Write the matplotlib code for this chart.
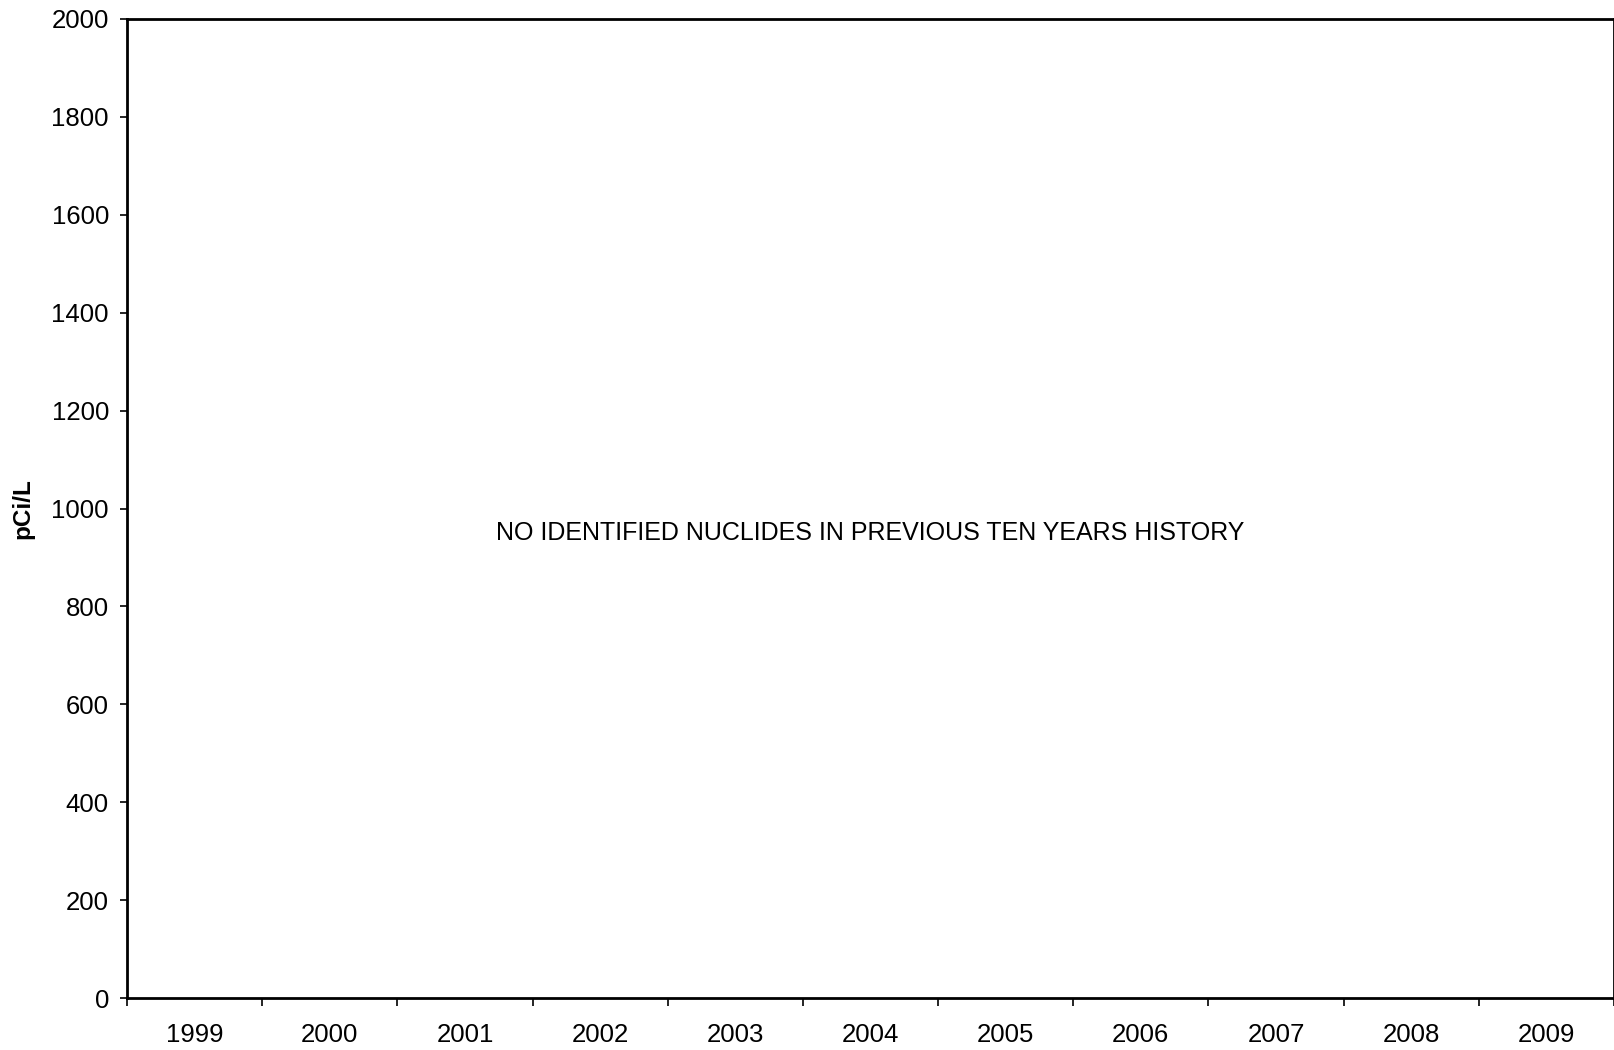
import matplotlib.pyplot as plt
import numpy as np

# Годы (категории) и подписи
years = ["1999", "2000", "2001", "2002", "2003", "2004",
         "2005", "2006", "2007", "2008", "2009"]
y_ticks = [0, 200, 400, 600, 800, 1000, 1200, 1400, 1600, 1800, 2000]
message = "NO IDENTIFIED NUCLIDES IN PREVIOUS TEN YEARS HISTORY"

plt.rcParams["font.family"] = ["Liberation Sans", "DejaVu Sans"]

fig = plt.figure(figsize=(16.15, 10.5), dpi=100)
ax = fig.add_axes([127 / 1615, 52 / 1050, 1487 / 1615, 979 / 1050])

x = np.arange(len(years))
ax.set_xlim(-0.5, len(years) - 0.5)
ax.set_ylim(0, 2000)

# Подписи по центру категорий, засечки на границах
ax.set_xticks(x)
ax.set_xticklabels(years, fontsize=18.5)
ax.tick_params(axis="x", which="major", length=0, pad=18)
ax.set_xticks(np.arange(len(years) + 1) - 0.5, minor=True)
ax.tick_params(axis="x", which="minor", length=6, width=1.2, direction="out")

ax.set_yticks(y_ticks)
ax.set_yticklabels([str(v) for v in y_ticks], fontsize=18.5)
ax.tick_params(axis="y", length=5, width=1.2, direction="out", pad=8)

for s in ax.spines.values():
    s.set_linewidth(2)

ax.set_ylabel("pCi/L", fontsize=17.5, fontweight="bold", labelpad=12)

ax.text(0.5, 950, message, transform=ax.get_yaxis_transform(),
        ha="center", va="center", fontsize=18)

plt.savefig("out.png", dpi=100)
